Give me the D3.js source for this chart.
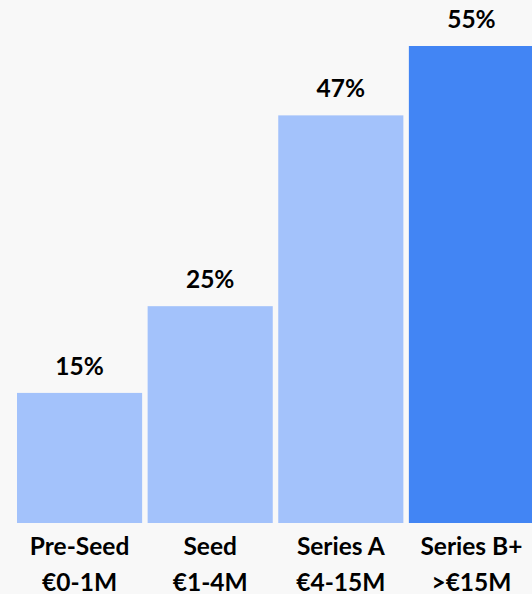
<!DOCTYPE html>
<html>
<head>
<meta charset="utf-8">
<script src="https://cdn.jsdelivr.net/npm/d3@7"></script>
<style>
  html, body { margin: 0; padding: 0; background: #f8f8f8; }
  svg { display: block; }
  text { font-family: Lato, "Open Sans", sans-serif; font-weight: 700; fill: #000; }
</style>
</head>
<body>
<div id="chart"></div>
<script>
const categories = ['Pre-Seed', 'Seed', 'Series A', 'Series B+'];
const ranges     = ['€0-1M', '€1-4M', '€4-15M', '>€15M'];
const values     = [15, 25, 47, 55];
const highlight  = 'Series B+';

const width  = 532;
const height = 594;

const data = categories.map((c, i) => ({ cat: c, range: ranges[i], value: values[i] }));

const svg = d3.select('#chart').append('svg')
  .attr('width', width)
  .attr('height', height);

const x = d3.scaleBand()
  .domain(categories)
  .range([17, 534])
  .paddingInner(0.042)
  .paddingOuter(0);

const y = d3.scaleLinear()
  .domain([0, 55])
  .range([523, 46]);

svg.selectAll('rect.bar')
  .data(data)
  .enter()
  .append('rect')
  .attr('class', 'bar')
  .attr('x', d => x(d.cat))
  .attr('y', d => y(d.value))
  .attr('width', x.bandwidth())
  .attr('height', d => y(0) - y(d.value))
  .attr('fill', d => d.cat === highlight ? '#4285f4' : '#a3c2fb');

// value labels above bars
svg.selectAll('text.val')
  .data(data)
  .enter()
  .append('text')
  .attr('class', 'val')
  .attr('x', d => x(d.cat) + x.bandwidth() / 2)
  .attr('y', d => y(d.value) - 18)
  .attr('text-anchor', 'middle')
  .style('font-size', '24.5px')
  .text(d => d.value + '%');

// two-line category labels under bars
const lab = svg.selectAll('g.lab')
  .data(data)
  .enter()
  .append('g')
  .attr('class', 'lab')
  .attr('transform', d => 'translate(' + (x(d.cat) + x.bandwidth() / 2) + ',0)');

lab.append('text')
  .attr('y', 555)
  .attr('text-anchor', 'middle')
  .style('font-size', '24.5px')
  .text(d => d.cat);

lab.append('text')
  .attr('y', 591)
  .attr('text-anchor', 'middle')
  .style('font-size', '24.5px')
  .text(d => d.range);
</script>
</body>
</html>
